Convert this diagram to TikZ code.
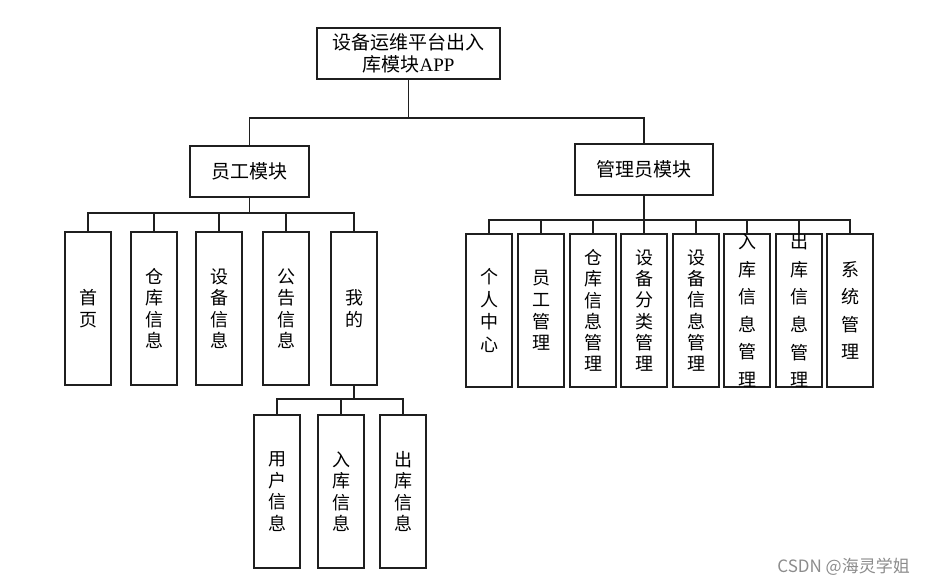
\documentclass[tikz,border=0pt]{standalone}
\usepackage{fontspec}
\setmainfont{Liberation Serif}
\newfontfamily\cjk{Noto Sans CJK SC}
\begin{document}
\begin{tikzpicture}[x=1pt,y=-1pt,
  box/.style={draw=black!88, line width=1.3pt, fill=white, inner sep=0pt, align=center,
    font=\cjk\fontsize{19}{21.5}\selectfont},
  leaf/.style={box, minimum width=46pt, minimum height=153pt},
  vt/.style={align=center, inner sep=0pt, font=\cjk\fontsize{18}{#1}\selectfont},
  vt/.default=21.5,
  conn/.style={draw=black!88, line width=1.3pt},
  wmark/.style={font=\cjk\fontsize{17}{17}\selectfont, text=black!45, inner sep=0pt}]
\useasboundingbox (0,0) rectangle (926,586);

% root and modules
\node[box, minimum width=183pt, minimum height=51pt] (top) at (408.5,53.5)
  {设备运维平台出入\\库模块{\rmfamily APP}};
\node[box, minimum width=119pt, minimum height=51pt] (emp) at (249.5,171.5) {员工模块};
\node[box, minimum width=138pt, minimum height=51pt] (adm) at (644,169.5) {管理员模块};

% employee leaves
\node[leaf, label={[vt]center:{首\\页}}] (e1) at (88,308.5) {};
\node[leaf, label={[vt]center:{仓\\库\\信\\息}}] (e2) at (154,308.5) {};
\node[leaf, label={[vt]center:{设\\备\\信\\息}}] (e3) at (219,308.5) {};
\node[leaf, label={[vt]center:{公\\告\\信\\息}}] (e4) at (286,308.5) {};
\node[leaf, label={[vt]center:{我\\的}}] (e5) at (354,308.5) {};

% my sub leaves
\node[leaf, label={[vt]center:{用\\户\\信\\息}}] (m1) at (277,491.5) {};
\node[leaf, label={[vt]center:{入\\库\\信\\息}}] (m2) at (341,491.5) {};
\node[leaf, label={[vt]center:{出\\库\\信\\息}}] (m3) at (403,491.5) {};

% admin leaves
\node[leaf, label={[vt=22.7]center:{个\\人\\中\\心}}] (a1) at (489,310.5) {};
\node[leaf, label={[vt=21.7]center:{员\\工\\管\\理}}] (a2) at (541,310.5) {};
\node[leaf, label={[vt=21.3]center:{仓\\库\\信\\息\\管\\理}}] (a3) at (593,310.5) {};
\node[leaf, label={[vt=21.3]center:{设\\备\\分\\类\\管\\理}}] (a4) at (644,310.5) {};
\node[leaf, label={[vt=21.3]center:{设\\备\\信\\息\\管\\理}}] (a5) at (696,310.5) {};
\node[leaf, label={[vt=27.6]center:{入\\库\\信\\息\\管\\理}}] (a6) at (747,310.5) {};
\node[leaf, label={[vt=27.6]center:{出\\库\\信\\息\\管\\理}}] (a7) at (799,310.5) {};
\node[leaf, label={[vt=27.2]center:{系\\统\\管\\理}}] (a8) at (850,310.5) {};

% bus levels
\coordinate (b0) at (409,118);
\coordinate (b1) at (249,213);
\coordinate (b2) at (644,220);
\coordinate (b3) at (354,399);

\draw[conn] (top.south) -- (top.south |- b0) -| (emp.north);
\draw[conn] (top.south) -- (top.south |- b0) -| (adm.north);
\foreach \c in {e1,e2,e3,e4,e5}
  \draw[conn] (emp.south) -- (emp.south |- b1) -| (\c.north);
\foreach \c in {a1,a2,a3,a4,a5,a6,a7,a8}
  \draw[conn] (adm.south) -- (adm.south |- b2) -| (\c.north);
\foreach \c in {m1,m2,m3}
  \draw[conn] (e5.south) -- (e5.south |- b3) -| (\c.north);

% watermark
\node[wmark, anchor=east] (wm) at (910,567) {CSDN @海灵学姐};
\end{tikzpicture}
\end{document}
